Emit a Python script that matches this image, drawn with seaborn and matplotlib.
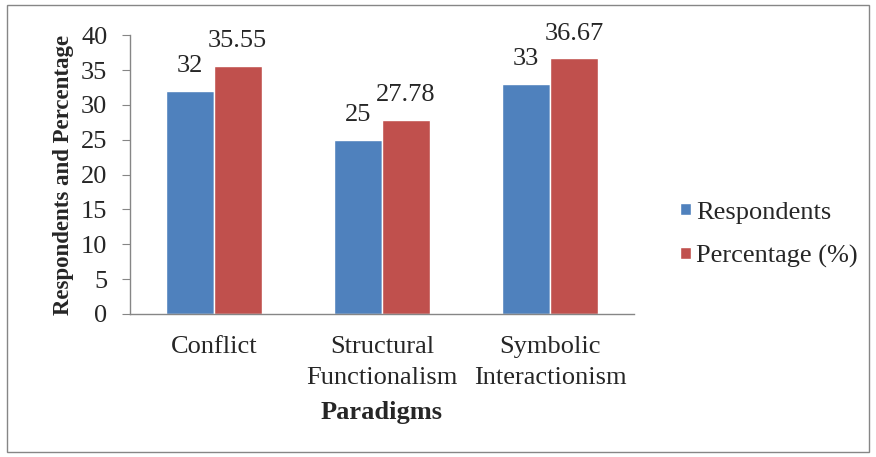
import pandas as pd
import matplotlib.pyplot as plt
import seaborn as sns
from matplotlib.patches import Rectangle

# Chart data
paradigms = ['Conflict', 'Structural\nFunctionalism', 'Symbolic\nInteractionism']
respondents = [32, 25, 33]
percentage = [35.55, 27.78, 36.67]
series_names = ['Respondents', 'Percentage (%)']

df = pd.DataFrame({
    'Paradigm': paradigms * 2,
    'Value': respondents + percentage,
    'Series': [series_names[0]] * 3 + [series_names[1]] * 3,
})

sns.set_style('white')
plt.rcParams['font.family'] = ['Liberation Serif', 'DejaVu Serif']
fs = 19

fig = plt.figure(figsize=(8.76, 4.57), dpi=100)
ax = fig.add_axes([0.148, 0.313, 0.576, 0.61])

sns.barplot(data=df, x='Paradigm', y='Value', hue='Series',
            palette=['#4F81BD', '#C0504D'], width=0.57, saturation=1,
            ax=ax, legend=True)

labels = [[str(v) for v in respondents], [f'{v:.2f}' for v in percentage]]
for cont, lab in zip(ax.containers, labels):
    ax.bar_label(cont, labels=lab, padding=10, fontsize=fs)

ax.set_ylim(0, 40)
ax.set_yticks(range(0, 41, 5))
ax.set_xlim(-0.5, 2.5)
ax.set_xticks([-0.5, 0.5, 1.5, 2.5], minor=True)
ax.tick_params(axis='x', which='major', length=0, labelsize=fs, pad=16)
ax.tick_params(axis='x', which='minor', length=6, color='#868686', width=1)
ax.tick_params(axis='y', length=6, color='#868686', labelsize=fs, pad=10, left=True)
for t in ax.get_xticklabels():
    t.set_linespacing(1.5)

for s in ['top', 'right']:
    ax.spines[s].set_visible(False)
for s in ['left', 'bottom']:
    ax.spines[s].set_color('#868686')
    ax.spines[s].set_linewidth(1)

ax.set_xlabel('Paradigms', fontsize=fs, fontweight='bold', labelpad=9)
ax.set_ylabel('Respondents and Percentage', fontsize=16.5, fontweight='bold', labelpad=5)

ax.legend(loc='center left', bbox_to_anchor=(680 / 876, 0.486),
          bbox_transform=fig.transFigure, frameon=False,
          fontsize=fs, handlelength=0.4, handleheight=0.3, handletextpad=0.2,
          labelspacing=0.8, borderaxespad=0, borderpad=0)

fig.patches.append(Rectangle((0.008, 0.011), 0.984, 0.978, transform=fig.transFigure,
                             fill=False, edgecolor='#868686', linewidth=1))

fig.savefig('out.png', dpi=100)
